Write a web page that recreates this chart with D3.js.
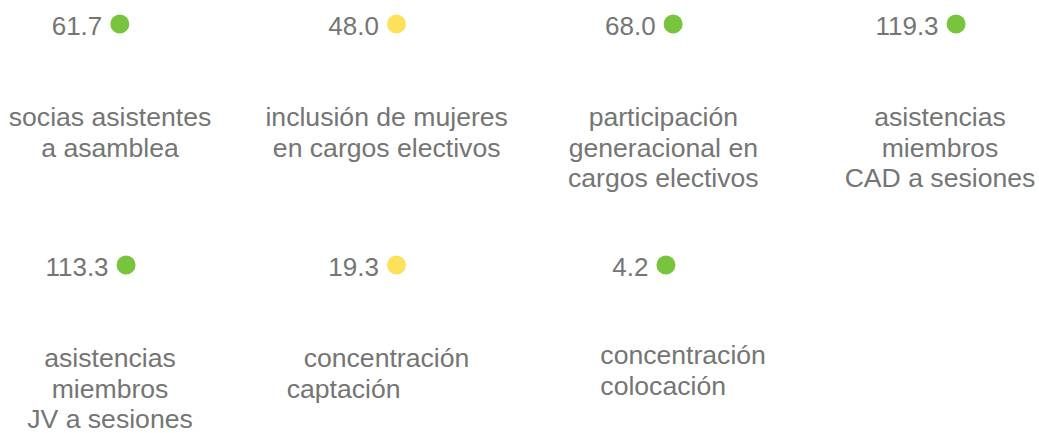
<!DOCTYPE html>
<html lang="es">
<head>
  <meta charset="UTF-8">
  <title>Indicadores</title>
  <script src="https://d3js.org/d3.v7.min.js"></script>
  <style>
    html, body { margin: 0; padding: 0; background: #fff; }
    svg text { font-family: "Liberation Sans", Arial, sans-serif; fill: #757575; }
  </style>
</head>
<body>
  <div id="chart"></div>

  <script>
    // indicator data
    const values = [61.7, 48.0, 68.0, 119.3, 113.3, 19.3, 4.2];
    const status = ['ok', 'warn', 'ok', 'ok', 'ok', 'warn', 'ok'];
    const labels = [
      ['socias asistentes', 'a asamblea'],
      ['inclusión de mujeres', 'en cargos electivos'],
      ['participación', 'generacional en', 'cargos electivos'],
      ['asistencias', 'miembros', 'CAD a sesiones'],
      ['asistencias', 'miembros', 'JV a sesiones'],
      ['concentración', 'captación'],
      ['concentración', 'colocación']
    ];

    const width = 1039;
    const height = 433;
    const cols = 4;

    const statusColor = d3.scaleOrdinal()
      .domain(['ok', 'warn'])
      .range(['#78c43c', '#fbe25a']);

    // label alignment quirks of the original widget
    const labelStyle = [
      {}, {}, {}, {}, {},
      { anchor: 'start', dx: -100, indent: 17 },
      { anchor: 'start', dx: -63, dy: -3 }
    ];

    const items = values.map((v, i) => ({
      value: v, status: status[i], label: labels[i],
      col: i % cols, row: Math.floor(i / cols), style: labelStyle[i]
    }));

    const x = d3.scalePoint().domain(d3.range(cols)).range([110, 940]);
    const y = d3.scalePoint().domain([0, 1]).range([35, 276]);

    const svg = d3.select('#chart')
      .append('svg')
      .attr('width', width)
      .attr('height', height);

    const defs = svg.append('defs');
    defs.append('filter').attr('id', 'soft')
      .append('feGaussianBlur').attr('stdDeviation', 0.7);

    const cell = svg.selectAll('g.cell')
      .data(items)
      .join('g')
      .attr('class', 'cell')
      .attr('transform', d => `translate(${x(d.col)},${y(d.row)})`);

    // value
    const valText = cell.append('text')
      .attr('x', -33)
      .attr('text-anchor', 'middle')
      .style('font-size', '26px')
      .text(d => d3.format('.1f')(d.value));

    // status dot placed after the value
    cell.each(function (d) {
      const t = d3.select(this).select('text').node();
      const w = t.getComputedTextLength();
      d3.select(this).append('circle')
        .attr('cx', -33 + w / 2 + 8 + 9.5)
        .attr('cy', -11)
        .attr('r', 9.5)
        .attr('fill', statusColor(d.status))
        .attr('filter', 'url(#soft)');
    });

    // label
    cell.append('text')
      .attr('text-anchor', d => d.style.anchor || 'middle')
      .attr('transform', d => `translate(${d.style.dx || 0},${91 + (d.style.dy || 0)})`)
      .style('font-size', '26.6px')
      .selectAll('tspan')
      .data(d => d.label.map((l, j) => ({ l, j, s: d.style })))
      .join('tspan')
      .attr('x', t => (t.j === 0 && t.s.indent) ? t.s.indent : 0)
      .attr('y', t => t.j * 30.5)
      .text(t => t.l);
  </script>
</body>
</html>
